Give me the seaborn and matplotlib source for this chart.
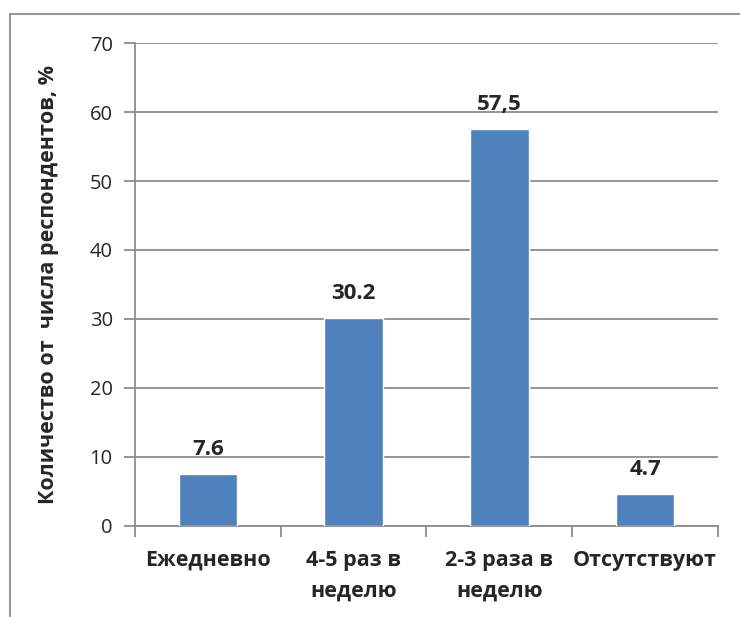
import matplotlib
matplotlib.use("Agg")
import matplotlib.pyplot as plt
from matplotlib.lines import Line2D
import seaborn as sns
import pandas as pd

categories = ["Ежедневно", "4-5 раз в\nнеделю", "2-3 раза в\nнеделю", "Отсутствуют"]
values = [7.6, 30.2, 57.5, 4.7]
value_labels = ["7.6", "30.2", "57,5", "4.7"]
y_ticks = [0, 10, 20, 30, 40, 50, 60, 70]

sns.set_theme(style="white")
plt.rcParams["font.family"] = ["Open Sans", "DejaVu Sans"]

df = pd.DataFrame({"cat": categories, "val": values})

fig = plt.figure(figsize=(7.4, 6.17), dpi=100)
ax = fig.add_axes([0.1824, 0.1475, 0.7879, 0.7828])

sns.barplot(data=df, x="cat", y="val", color="#4F81BD", saturation=1,
            width=0.4, ax=ax, zorder=3)

ax.set_ylim(0, 70)
ax.set_xlim(-0.5, len(categories) - 0.5)
ax.set_yticks(y_ticks)
ax.set_yticklabels([str(t) for t in y_ticks], fontsize=14.5)
ax.yaxis.grid(True, color="#8c8c8c", linewidth=1.3, zorder=0)
ax.set_axisbelow(True)

# category labels sit between boundary ticks
ax.set_xticks(range(len(categories)))
ax.set_xticklabels(categories, fontsize=15.5, fontweight="bold", linespacing=1.6)
ax.tick_params(axis="x", length=0, pad=17)
ax.set_xticks([i - 0.5 for i in range(len(categories) + 1)], minor=True)
ax.tick_params(axis="x", which="minor", length=8, width=1.3, color="#8c8c8c",
               direction="out", bottom=True)
ax.tick_params(axis="y", length=8, width=1.3, color="#8c8c8c",
               direction="out", left=True, pad=8)

for side in ["top", "right"]:
    ax.spines[side].set_visible(False)
for side in ["left", "bottom"]:
    ax.spines[side].set_color("#8c8c8c")
    ax.spines[side].set_linewidth(1.3)

ax.set_xlabel("")
ax.set_ylabel("Количество от  числа респондентов, %", fontsize=15.5,
              fontweight="bold", labelpad=22)

ax.bar_label(ax.containers[0], labels=value_labels, padding=10,
             fontsize=16, fontweight="bold")

# outer frame lines (top and left)
fig.add_artist(Line2D([0.0135, 1.0], [0.9773, 0.9773], color="#8c8c8c",
                      linewidth=1.3, transform=fig.transFigure))
fig.add_artist(Line2D([0.0135, 0.0135], [0.0, 0.9773], color="#8c8c8c",
                      linewidth=1.3, transform=fig.transFigure))

fig.savefig("out.png", dpi=100, facecolor="white")
